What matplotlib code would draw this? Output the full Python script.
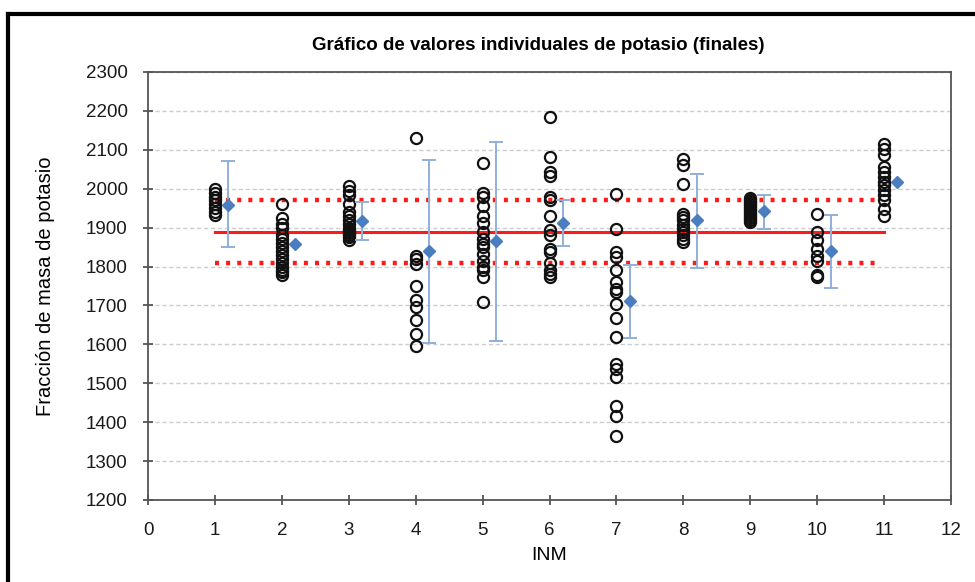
import matplotlib.pyplot as plt
from matplotlib.lines import Line2D
import numpy as np

# valores individuales por laboratorio (INM 1..11)
inm = [1, 2, 3, 4, 5, 6, 7, 8, 9, 10, 11]
valores = [
    [2000, 1990, 1980, 1970, 1960, 1950, 1940, 1932],
    [1960, 1925, 1910, 1900, 1880, 1870, 1860, 1850, 1840, 1830, 1820, 1810,
     1800, 1790, 1785, 1778],
    [2008, 1995, 1985, 1962, 1940, 1930, 1920, 1910, 1900, 1895, 1890, 1885,
     1880, 1875, 1868],
    [2131, 1828, 1820, 1807, 1751, 1715, 1695, 1663, 1627, 1597],
    [2065, 1989, 1979, 1955, 1931, 1912, 1888, 1872, 1859, 1850, 1833, 1815,
     1798, 1790, 1773, 1710],
    [2185, 2081, 2043, 2032, 1979, 1970, 1931, 1893, 1880, 1845, 1837, 1808,
     1792, 1782, 1773],
    [1987, 1897, 1837, 1824, 1790, 1760, 1742, 1734, 1704, 1669, 1620, 1549,
     1536, 1515, 1442, 1416, 1364],
    [2077, 2062, 2011, 1936, 1927, 1919, 1906, 1897, 1888, 1880, 1871, 1863],
    [1975, 1970, 1965, 1960, 1955, 1950, 1945, 1940, 1935, 1930, 1925, 1920,
     1915],
    [1934, 1888, 1867, 1845, 1828, 1815, 1777, 1773],
    [2116, 2103, 2086, 2056, 2043, 2030, 2017, 2009, 1996, 1983, 1970, 1949,
     1931],
]

# media e intervalo de cada laboratorio
medias = [1958, 1859, 1916, 1839, 1865, 1912, 1711, 1920, 1944, 1841, 2017]
err_sup = [2071, np.nan, 1966, 2073, 2120, 1972, 1805, 2039, 1983, 1933, np.nan]
err_inf = [1850, np.nan, 1867, 1604, 1609, 1852, 1616, 1796, 1897, 1745, np.nan]

valor_ref = 1890
lim_sup = 1970
lim_inf = 1810

plt.rcParams['font.family'] = ['Liberation Sans', 'DejaVu Sans']

fig = plt.figure(figsize=(9.75, 5.82), dpi=100)
ax = fig.add_axes([148 / 975, 1 - 500 / 582, (951 - 148) / 975, (500 - 72) / 582])

# lineas de referencia
ax.plot([1, 11], [valor_ref, valor_ref], color='#ff1a1a', lw=2.2, zorder=2)
ax.plot([1, 10.9], [lim_sup, lim_sup], color='#ff1a1a', lw=3.2,
        linestyle=(0, (0.9, 1.6)), zorder=2)
ax.plot([1, 10.9], [lim_inf, lim_inf], color='#ff1a1a', lw=3.2,
        linestyle=(0, (0.9, 1.6)), zorder=2)

# puntos individuales
for x, vals in zip(inm, valores):
    ax.plot([x] * len(vals), vals, linestyle='none', marker='o', ms=8,
            mfc='none', mec='#111111', mew=1.6, zorder=3)

# medias con barras de error
xm = np.array(inm) + 0.2
medias = np.array(medias, dtype=float)
yerr = np.array([medias - np.array(err_inf), np.array(err_sup) - medias])
ax.errorbar(xm, medias, yerr=yerr, fmt='none', ecolor='#8fb0dc', elinewidth=1.4,
            capsize=5, capthick=1.4, zorder=3)
ax.plot(xm, medias, linestyle='none', marker='D', ms=6, color='#4a7ec0',
        zorder=4)

ax.set_xlim(0, 12)
ax.set_ylim(1200, 2300)
ax.set_xticks(range(0, 13))
ax.set_yticks(range(1200, 2301, 100))
ax.yaxis.grid(True, color='#cccccc', linestyle=(0, (3, 2)), lw=1.0)
ax.set_axisbelow(True)
for s in ax.spines.values():
    s.set_color('#555555')
    s.set_linewidth(1.3)
ax.tick_params(direction='inout', length=7, width=1.3, color='#555555',
               labelsize=13.5, labelcolor='#1a1a1a')
ax.tick_params(axis='x', pad=12)
ax.tick_params(axis='y', pad=11)

ax.set_xlabel('INM', fontsize=14, labelpad=6)
ax.set_ylabel('Fracción de masa de potasio', fontsize=14.5, labelpad=22)
fig.text(538 / 975, 1 - 46 / 582,
         'Gráfico de valores individuales de potasio (finales)',
         ha='center', va='center', fontsize=13.5, fontweight='bold')

# marco exterior
fig.add_artist(Line2D([8 / 975, 8 / 975], [0, 1 - 14 / 582], color='black', lw=3))
fig.add_artist(Line2D([8 / 975, 1], [1 - 14 / 582, 1 - 14 / 582], color='black', lw=3))

fig.savefig('out.png', dpi=100)
